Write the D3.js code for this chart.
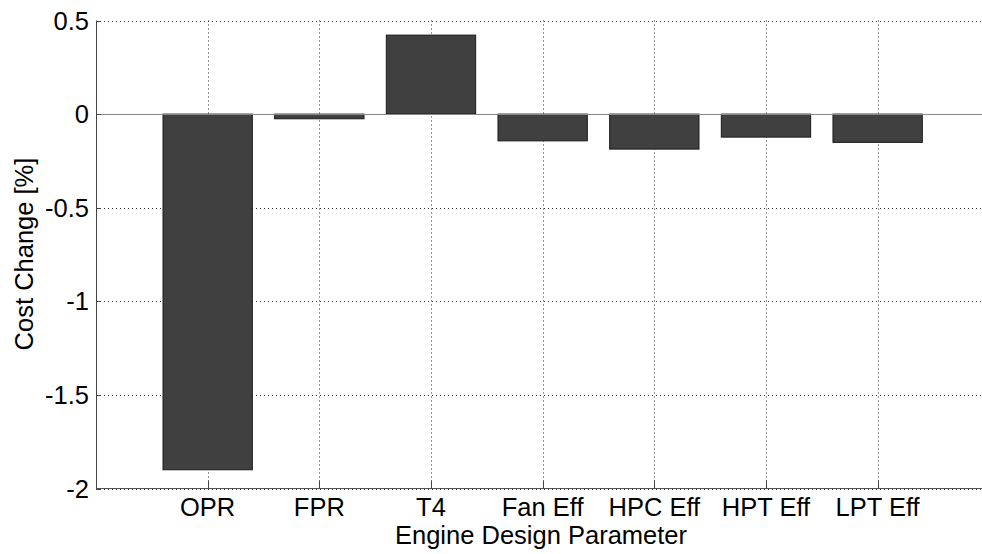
<!DOCTYPE html>
<html><head><meta charset="utf-8">
<script src="https://cdn.jsdelivr.net/npm/d3@7"></script>
<style>
html,body{margin:0;padding:0;background:#fff;}
svg{display:block;}
text{font-family:"Liberation Sans",Arial,sans-serif;fill:#000;}
</style></head>
<body>
<svg id="chart" width="982" height="554"></svg>
<script>
const categories = ["OPR","FPR","T4","Fan Eff","HPC Eff","HPT Eff","LPT Eff"];
const costChange = [-1.9, -0.025, 0.422, -0.143, -0.187, -0.123, -0.151];
const yTicks = [-2, -1.5, -1, -0.5, 0, 0.5];
const yTickLabels = ["-2","-1.5","-1","-0.5","0","0.5"];
const xLabel = "Engine Design Parameter";
const yLabel = "Cost Change [%]";

(function(){
const svg = d3.select("#chart");
const pL = 96, pT = 20.5, pB = 488.5, pR = 989.3;
const x = d3.scaleLinear().domain([0, 8]).range([pL, pR]);
const y = d3.scaleLinear().domain([-2, 0.5]).range([pB, pT]);
const barW = (x(1) - x(0)) * 0.8;
const fs = 25.5;

const g = svg.append("g");
// grid
g.selectAll(".vg").data(categories).enter().append("line")
  .attr("x1", (d,i)=>Math.round(x(i+1))+0.5).attr("x2", (d,i)=>Math.round(x(i+1))+0.5)
  .attr("y1", pT).attr("y2", pB)
  .attr("stroke", "#333").attr("stroke-width", 1).attr("stroke-dasharray", "1,3");
g.selectAll(".hg").data(yTicks).enter().append("line")
  .attr("x1", pL).attr("x2", pR)
  .attr("y1", d=>Math.round(y(d))+0.5).attr("y2", d=>Math.round(y(d))+0.5)
  .attr("stroke", "#333").attr("stroke-width", 1).attr("stroke-dasharray", "1,3");

// bars
g.selectAll(".bar").data(costChange).enter().append("rect")
  .attr("x", (d,i)=>x(i+1)-barW/2)
  .attr("width", barW)
  .attr("y", d=>y(Math.max(0,d)))
  .attr("height", d=>Math.abs(y(d)-y(0)))
  .attr("fill", "#404040").attr("stroke", "#1a1a1a").attr("stroke-width", 1);

// baseline
g.append("line").attr("x1", pL).attr("x2", pR)
  .attr("y1", Math.round(y(0))+0.5).attr("y2", Math.round(y(0))+0.5)
  .attr("stroke", "#888").attr("stroke-width", 1.2);

// axes lines
g.append("line").attr("x1", pL+0.5).attr("x2", pL+0.5).attr("y1", pT).attr("y2", pB)
  .attr("stroke", "#444").attr("stroke-width", 1);
g.append("line").attr("x1", pL).attr("x2", pR).attr("y1", pB).attr("y2", pB)
  .attr("stroke", "#555").attr("stroke-width", 1.2);

// ticks (inward)
g.selectAll(".yt").data(yTicks).enter().append("line")
  .attr("x1", pL).attr("x2", pL+5)
  .attr("y1", d=>Math.round(y(d))+0.5).attr("y2", d=>Math.round(y(d))+0.5)
  .attr("stroke", "#444");
g.selectAll(".xt").data(categories).enter().append("line")
  .attr("x1", (d,i)=>Math.round(x(i+1))+0.5).attr("x2", (d,i)=>Math.round(x(i+1))+0.5)
  .attr("y1", pB).attr("y2", pB-8)
  .attr("stroke", "#444");

// tick labels
g.selectAll(".yl").data(yTicks).enter().append("text")
  .attr("x", pL-7).attr("y", d=>y(d)+9)
  .attr("text-anchor", "end").attr("font-size", fs)
  .text((d,i)=>yTickLabels[i]);
g.selectAll(".xl").data(categories).enter().append("text")
  .attr("x", (d,i)=>x(i+1)).attr("y", 516)
  .attr("text-anchor", "middle").attr("font-size", fs)
  .text(d=>d);

// axis labels
g.append("text").attr("x", 541).attr("y", 544).attr("text-anchor", "middle")
  .attr("font-size", fs).text(xLabel);
g.append("text").attr("transform", "translate(33,254) rotate(-90)")
  .attr("text-anchor", "middle").attr("font-size", fs).text(yLabel);
})();
</script>
</body></html>
